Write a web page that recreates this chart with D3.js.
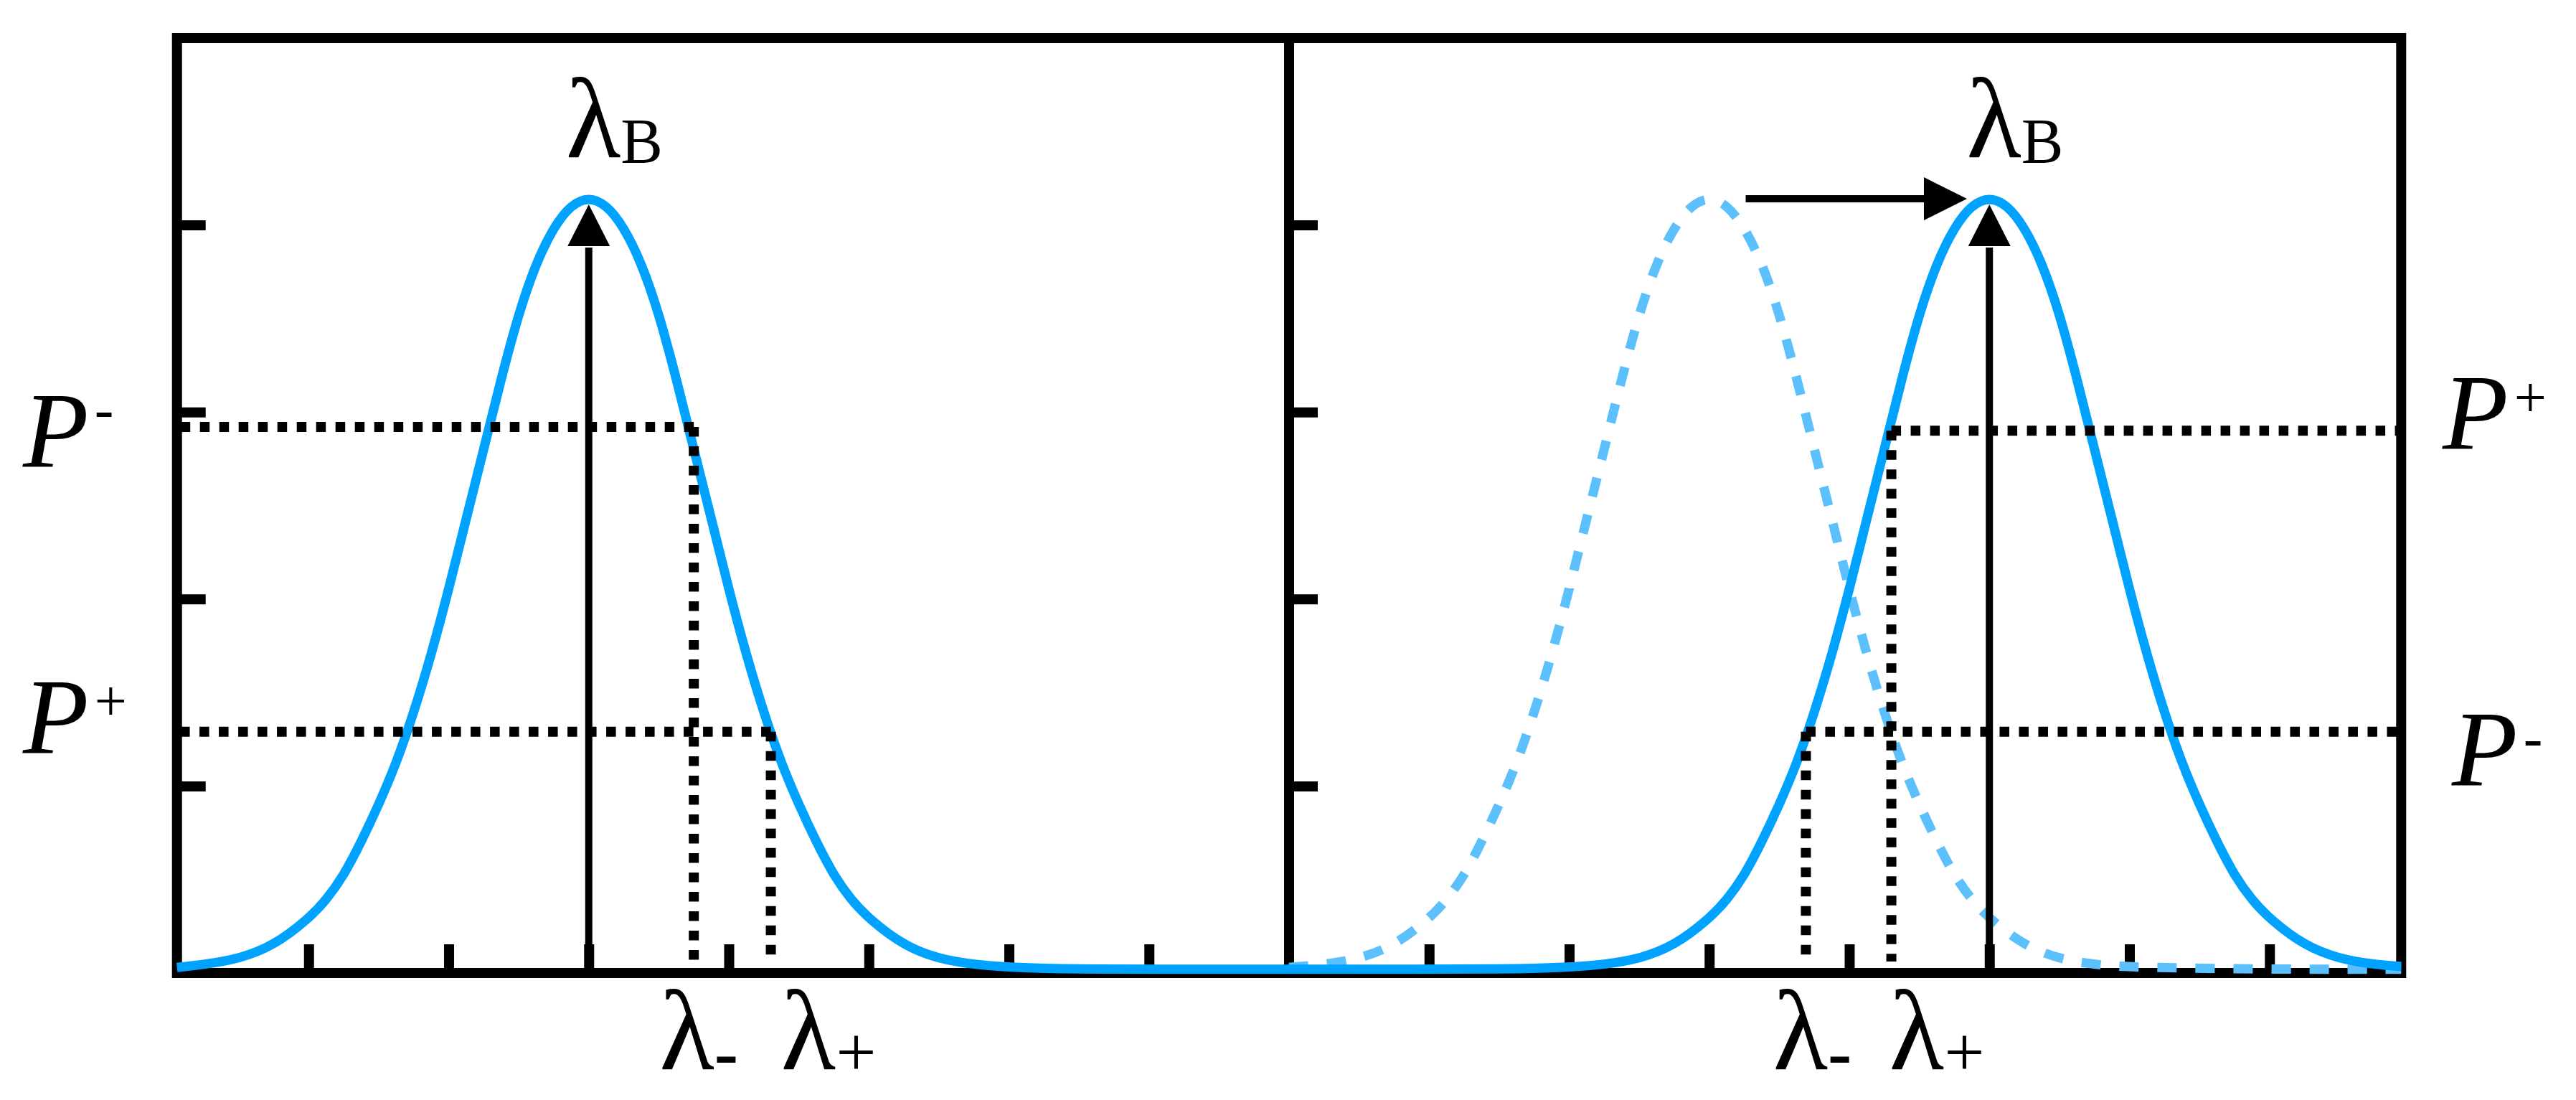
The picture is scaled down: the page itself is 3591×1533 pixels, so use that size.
<!DOCTYPE html>
<html><head><meta charset="utf-8">
<script src="https://cdn.jsdelivr.net/npm/d3@7"></script>
<style>html,body{margin:0;padding:0;background:#fff;} svg{display:block;}</style>
</head><body>
<svg id="chart" width="3591" height="1533"></svg>
<script>
// ---------------- data ----------------
const xTicks = [1, 2, 3, 4, 5, 6, 7];
const yTicks = [1, 2, 3, 4];

// left panel: reflection peak centred at 3
const leftX = [0.06, 0.25, 0.5, 0.75, 1.0, 1.125, 1.25, 1.375, 1.5, 1.625, 1.75, 1.875, 2.0, 2.125, 2.25, 2.375, 2.5, 2.625, 2.75, 2.875,
               3.0, 3.125, 3.25, 3.375, 3.5, 3.625, 3.75, 3.875, 4.0, 4.125, 4.25, 4.375, 4.5, 4.625, 4.75, 4.875, 5.0,
               5.25, 5.5, 5.75, 6.0, 6.5, 7.0, 8.0];
const leftY = [0.03, 0.045, 0.075, 0.145, 0.29, 0.39, 0.52, 0.70, 0.90, 1.12, 1.39, 1.70, 2.05, 2.43, 2.80, 3.18, 3.53, 3.80, 3.99, 4.11,
               4.15, 4.11, 3.99, 3.80, 3.53, 3.18, 2.80, 2.43, 2.05, 1.70, 1.39, 1.12, 0.90, 0.70, 0.52, 0.39, 0.29,
               0.145, 0.075, 0.045, 0.03, 0.02, 0.02, 0.02];

// right panel: original peak (dashed) centred at 3
const dashedX = [0, 0.25, 0.5, 0.75, 1.0, 1.125, 1.25, 1.375, 1.5, 1.625, 1.75, 1.875, 2.0, 2.125, 2.25, 2.375, 2.5, 2.625, 2.75, 2.875,
                 3.0, 3.125, 3.25, 3.375, 3.5, 3.625, 3.75, 3.875, 4.0, 4.125, 4.25, 4.375, 4.5, 4.625, 4.75, 4.875, 5.0,
                 5.25, 5.5, 5.75, 6.0, 7.0, 7.94];
const dashedY = [0.03, 0.045, 0.075, 0.145, 0.29, 0.39, 0.52, 0.70, 0.90, 1.12, 1.39, 1.70, 2.05, 2.43, 2.80, 3.18, 3.53, 3.80, 3.99, 4.11,
                 4.15, 4.11, 3.99, 3.80, 3.53, 3.18, 2.80, 2.43, 2.05, 1.70, 1.39, 1.12, 0.90, 0.70, 0.52, 0.39, 0.29,
                 0.145, 0.075, 0.045, 0.03, 0.02, 0.02];
// right panel: shifted peak (solid) centred at 5
const solidX = [0, 1.0, 1.5, 2.0, 2.25, 2.5, 2.75, 3.0, 3.125, 3.25, 3.375, 3.5, 3.625, 3.75, 3.875, 4.0, 4.125, 4.25, 4.375, 4.5, 4.625, 4.75, 4.875,
                5.0, 5.125, 5.25, 5.375, 5.5, 5.625, 5.75, 5.875, 6.0, 6.125, 6.25, 6.375, 6.5, 6.625, 6.75, 6.875, 7.0,
                7.25, 7.5, 7.75, 7.94];
const solidY = [0.02, 0.02, 0.02, 0.03, 0.045, 0.075, 0.145, 0.29, 0.39, 0.52, 0.70, 0.90, 1.12, 1.39, 1.70, 2.05, 2.43, 2.80, 3.18, 3.53, 3.80, 3.99, 4.11,
                4.15, 4.11, 3.99, 3.80, 3.53, 3.18, 2.80, 2.43, 2.05, 1.70, 1.39, 1.12, 0.90, 0.70, 0.52, 0.39, 0.29,
                0.145, 0.075, 0.045, 0.035];

// power levels and wavelengths
const leftLevels = [2.92, 1.29];      // P-, P+ (left panel)
const leftLambdas = [3.75, 4.30];     // λ-, λ+ (left panel)
const rightLevels = [1.29, 2.90];     // P-, P+ (right panel)
const rightLambdas = [3.69, 4.30];    // λ-, λ+ (right panel)
const peakLeft = 3, peakRight = 5, arrowTip = 4.11;
const shiftArrow = [3.26, 4.84];      // from original peak toward new peak
const shiftLevel = 4.14;

const levelLabelsLeft = ["-", "+"];
const levelLabelsRight = ["-", "+"];
const lambdaSubs = ["-", "+"];

// ---------------- layout ----------------
const svg = d3.select("#chart");
const BLUE = "#00a2ff", LIGHT = "#5bc0fc";
const serif = "'Liberation Serif','Times New Roman',serif";
const xL = d3.scaleLinear().domain([0, 8]).range([235, 1797]);
const xR = d3.scaleLinear().domain([0, 8]).range([1797, 3359]);
const y = d3.scaleLinear().domain([0, 5]).range([1356, 53]);
const frameL = xL(0.06), frameR = xR(7.94);

svg.append("rect").attr("width", 3591).attr("height", 1533).attr("fill", "#fff");

// ticks
function xAxis(scale) {
  const g = svg.append("g").attr("transform", `translate(0,${y(0)})`)
    .call(d3.axisBottom(scale).tickValues(xTicks).tickSizeInner(-40).tickSizeOuter(0).tickFormat(""));
  g.select(".domain").remove();
  g.selectAll(".tick line").attr("stroke", "#000").attr("stroke-width", 14);
}
function yAxis(x0) {
  const g = svg.append("g").attr("transform", `translate(${x0},0)`)
    .call(d3.axisLeft(y).tickValues(yTicks).tickSizeInner(-40).tickSizeOuter(0).tickFormat(""));
  g.select(".domain").remove();
  g.selectAll(".tick line").attr("stroke", "#000").attr("stroke-width", 14);
}
xAxis(xL); xAxis(xR); yAxis(frameL); yAxis(xL(8));

// frame
svg.append("rect").attr("x", frameL).attr("y", y(5)).attr("width", frameR - frameL).attr("height", y(0) - y(5))
  .attr("fill", "none").attr("stroke", "#000").attr("stroke-width", 14);
svg.append("line").attr("x1", xL(8)).attr("x2", xL(8)).attr("y1", y(5)).attr("y2", y(0))
  .attr("stroke", "#000").attr("stroke-width", 14);

// curves
const lineL = d3.line().x(d => xL(d[0])).y(d => y(d[1])).curve(d3.curveBasis);
const lineR = d3.line().x(d => xR(d[0])).y(d => y(d[1])).curve(d3.curveBasis);
svg.append("path").attr("d", lineL(d3.zip(leftX, leftY))).attr("fill", "none").attr("stroke", BLUE).attr("stroke-width", 13);
svg.append("path").attr("d", lineR(d3.zip(dashedX, dashedY))).attr("fill", "none").attr("stroke", LIGHT)
  .attr("stroke-width", 13).attr("stroke-dasharray", "27 26");
svg.append("path").attr("d", lineR(d3.zip(solidX, solidY))).attr("fill", "none").attr("stroke", BLUE).attr("stroke-width", 13);

// dotted guide lines
const dot = sel => sel.attr("fill", "none").attr("stroke", "#000").attr("stroke-width", 14).attr("stroke-dasharray", "13.5 13.5");
leftLevels.forEach((lv, i) => {
  const xc = xL(leftLambdas[i]);
  dot(svg.append("path").attr("d", `M${xc},${y(lv)}H${frameL}`));
  dot(svg.append("path").attr("d", `M${xc},${y(lv)}V1340`));
});
rightLevels.forEach((lv, i) => {
  const xc = xR(rightLambdas[i]);
  dot(svg.append("path").attr("d", `M${xc},${y(lv)}H${frameR + 6}`));
  dot(svg.append("path").attr("d", `M${xc},${y(lv)}V1340`));
});

// arrows
function vArrow(x) {
  const tip = y(arrowTip), base = tip + 58;
  svg.append("line").attr("x1", x).attr("x2", x).attr("y1", y(0)).attr("y2", base + 2).attr("stroke", "#000").attr("stroke-width", 10);
  svg.append("path").attr("d", `M${x},${tip}L${x - 29.5},${base}L${x + 29.5},${base}Z`).attr("fill", "#000");
}
vArrow(xL(peakLeft)); vArrow(xR(peakRight));
{
  const yy = y(shiftLevel), x0 = xR(shiftArrow[0]), tip = xR(shiftArrow[1]), base = tip - 60;
  svg.append("line").attr("x1", x0).attr("x2", base + 2).attr("y1", yy).attr("y2", yy).attr("stroke", "#000").attr("stroke-width", 10);
  svg.append("path").attr("d", `M${tip},${yy}L${base},${yy - 30}L${base},${yy + 30}Z`).attr("fill", "#000");
}

// labels
function lambdaB(x) {
  const t = svg.append("text").attr("x", x - 32).attr("y", 219).attr("font-family", serif).attr("fill", "#000");
  t.append("tspan").attr("font-size", 158).text("λ");
  t.append("tspan").attr("font-size", 88).attr("dy", 7).text("B");
}
lambdaB(xL(peakLeft)); lambdaB(xR(peakRight));

function lambdaLabel(x, sub) {
  const t = svg.append("text").attr("x", x).attr("y", 1490).attr("font-family", serif).attr("fill", "#000");
  t.append("tspan").attr("font-size", 158).text("λ");
  t.append("tspan").attr("font-size", 100).attr("dy", 10).attr("font-weight", sub === "-" ? "bold" : "normal").text(sub);
}
const lamDxLeft = [-48, 14], lamDxRight = [-46, -3];
leftLambdas.forEach((l, i) => lambdaLabel(xL(l) + lamDxLeft[i], lambdaSubs[i]));
rightLambdas.forEach((l, i) => lambdaLabel(xR(l) + lamDxRight[i], lambdaSubs[i]));

function pLabel(x, baseline, sup, supDy) {
  const t = svg.append("text").attr("x", x).attr("y", baseline).attr("font-family", serif).attr("fill", "#000");
  t.append("tspan").attr("font-size", 150).attr("font-style", "italic").text("P");
  t.append("tspan").attr("font-size", 80).attr("dx", 8).attr("dy", supDy).text(sup);
}
const leftBaseOff = [56, 30], rightBaseOff = [75, 26];
leftLevels.forEach((lv, i) => pLabel(32, y(lv) + leftBaseOff[i], levelLabelsLeft[i], i === 0 ? -54 : -46));
rightLevels.forEach((lv, i) => pLabel(i === 0 ? 3418 : 3405, y(lv) + rightBaseOff[i], levelLabelsRight[i], i === 0 ? -40 : -45));
</script>
</body></html>
